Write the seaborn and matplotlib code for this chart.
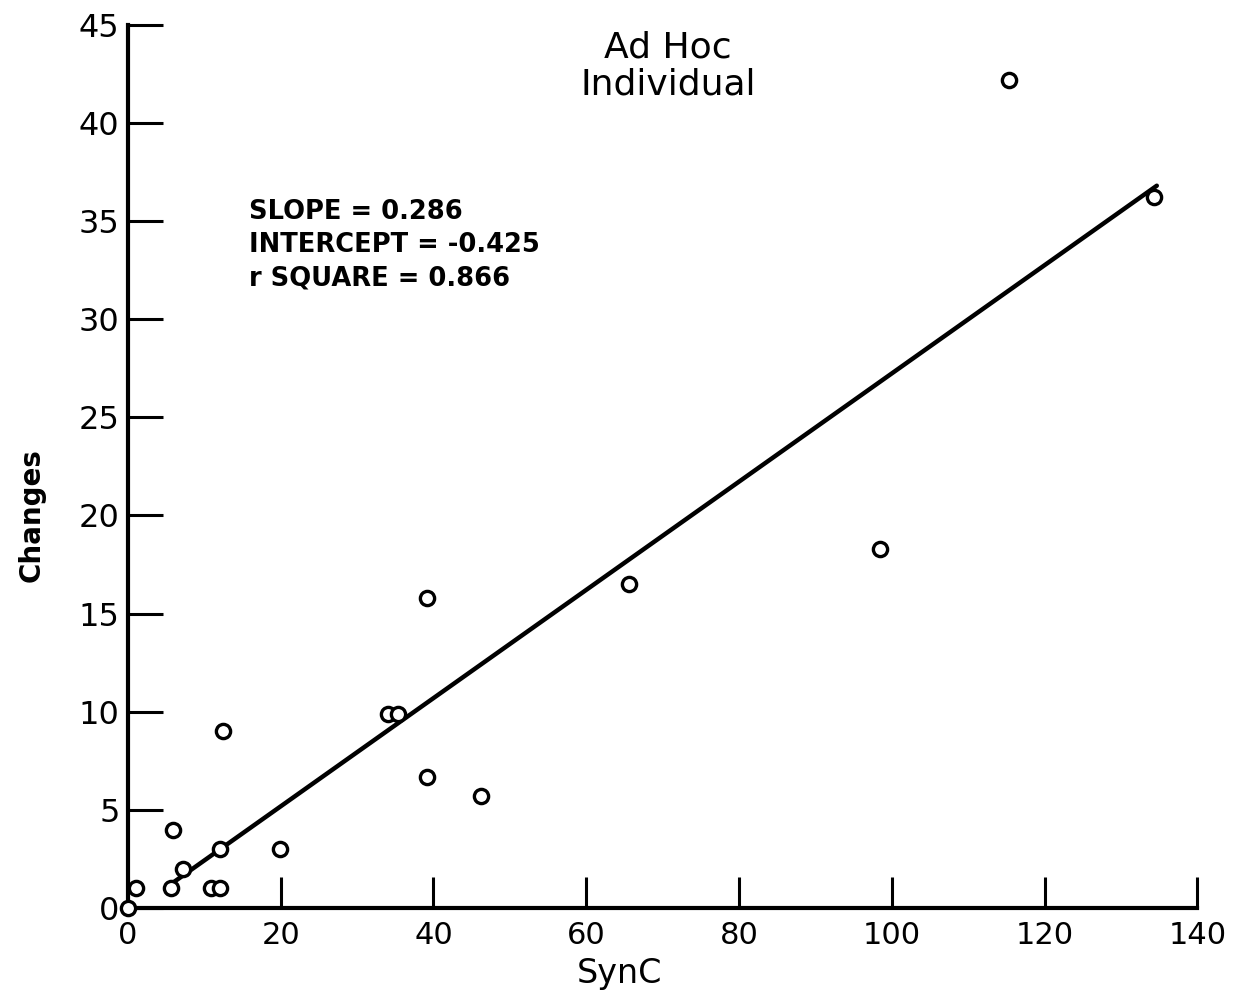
import matplotlib
matplotlib.use("Agg")
import matplotlib.pyplot as plt
import seaborn as sns
import pandas as pd
import numpy as np

# values
sync = [0, 1, 5.6, 5.9, 7.2, 10.9, 12.0, 12.0, 12.4, 19.9, 34.0, 35.4,
        39.1, 39.1, 46.2, 65.6, 98.4, 115.4, 134.3]
changes = [0, 1, 1, 4, 2, 1, 1, 3, 9, 3, 9.9, 9.9,
           15.8, 6.7, 5.7, 16.5, 18.3, 42.2, 36.2]

# fitted line as drawn (end points)
fit_x = [5.2, 134.7]
fit_y = [1.1, 36.8]

x_ticks = [0, 20, 40, 60, 80, 100, 120, 140]
y_ticks = [0, 5, 10, 15, 20, 25, 30, 35, 40, 45]

stats_lines = ["SLOPE = 0.286", "INTERCEPT = -0.425", "r SQUARE = 0.866"]
panel_title = "Ad Hoc\nIndividual"

df = pd.DataFrame({"SynC": sync, "Changes": changes})
fit_df = pd.DataFrame({"SynC": fit_x, "Changes": fit_y})

sns.set_theme(style="ticks")
plt.rcParams['font.family'] = ['DejaVu Sans']
plt.rcParams['text.color'] = 'black'
plt.rcParams['axes.labelcolor'] = 'black'

fig = plt.figure(figsize=(12.42, 10.06), dpi=100)
ax = fig.add_axes([0.103, 0.0974, 0.861, 0.878])

sns.lineplot(data=fit_df, x="SynC", y="Changes", color="black",
             linewidth=3.2, ax=ax)
sns.scatterplot(data=df, x="SynC", y="Changes", s=105, marker="o",
                facecolor="white", edgecolor="black", linewidth=2.4,
                ax=ax, zorder=5, clip_on=False)

ax.set_xlim(0, 140)
ax.set_ylim(0, 45)
ax.set_xticks(x_ticks)
ax.set_yticks(y_ticks)

sns.despine(ax=ax)
for side in ["left", "bottom"]:
    ax.spines[side].set_linewidth(3)
    ax.spines[side].set_color("black")

ax.tick_params(axis="x", direction="in", length=22, width=2.2,
               labelsize=22, pad=9, colors="black")
ax.tick_params(axis="y", direction="in", length=25, width=2.2,
               labelsize=23, pad=6, colors="black")

ax.set_xlabel("SynC", fontsize=24)
ax.xaxis.set_label_coords(0.46, -0.055)
ax.set_ylabel("Changes", fontsize=20, fontweight="bold")
ax.yaxis.set_label_coords(-0.077, 0.445)

ax.text(70.7, 44.7, panel_title, ha="center", va="top", fontsize=26,
        linespacing=1.1, multialignment="center")
ax.text(15.8, 36.1, "\n".join(stats_lines), ha="left", va="top",
        fontsize=18.5, fontweight="bold", linespacing=1.35)

fig.savefig("out.png", dpi=100, facecolor="white")
